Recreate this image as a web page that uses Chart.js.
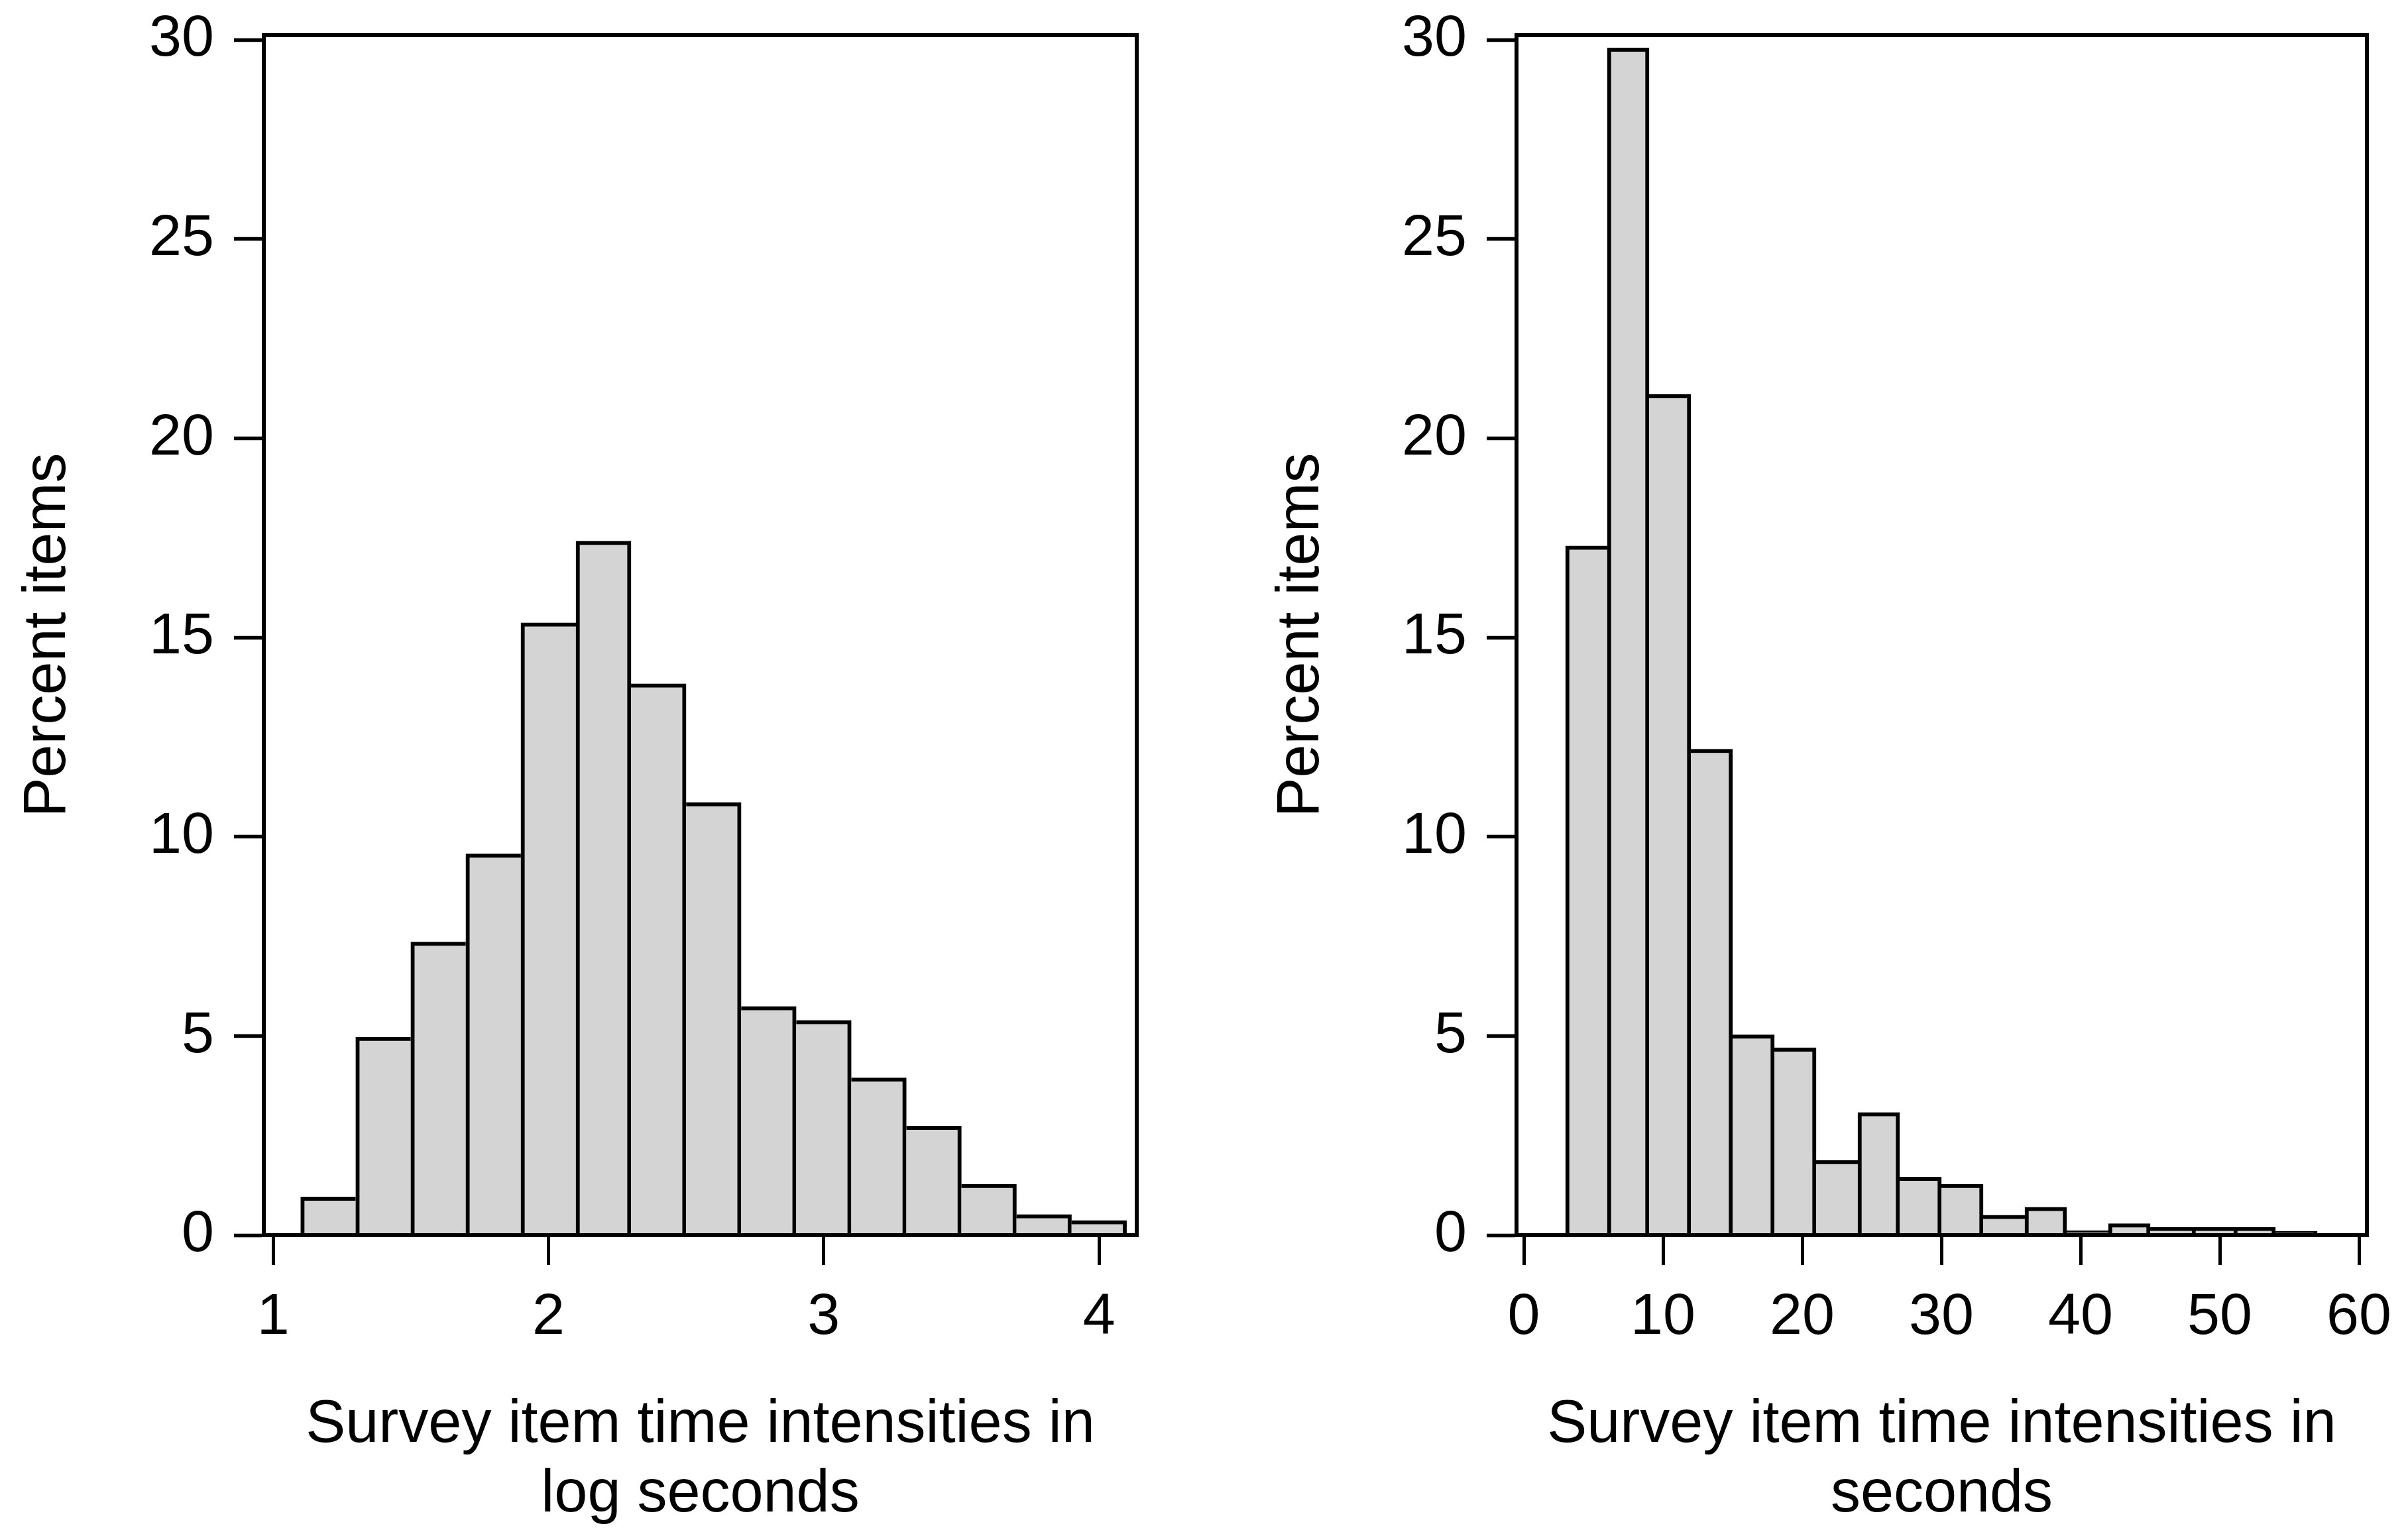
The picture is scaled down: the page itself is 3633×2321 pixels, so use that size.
<!DOCTYPE html>
<html><head><meta charset="utf-8">
<script src="https://cdn.jsdelivr.net/npm/chart.js@4"></script>
<style>
html,body{margin:0;padding:0;background:#fff;width:3633px;height:2321px;overflow:hidden}
canvas{position:absolute;top:0}
</style></head>
<body>
<canvas id="c1" width="1800" height="2321" style="left:0;width:1800px;height:2321px"></canvas>
<canvas id="c2" width="1833" height="2321" style="left:1800px;width:1833px;height:2321px"></canvas>
<script>
// ---- data ----
const logBinStarts = [1.1, 1.3, 1.5, 1.7, 1.9, 2.1, 2.3, 2.5, 2.7, 2.9, 3.1, 3.3, 3.5, 3.7, 3.9];
const logBinWidth = 0.2;
const logPercents = [0.96, 4.97, 7.36, 9.57, 15.37, 17.42, 13.84, 10.86, 5.74, 5.39, 3.95, 2.74, 1.28, 0.52, 0.37];

const secBinStarts = [3, 6, 9, 12, 15, 18, 21, 24, 27, 30, 33, 36, 39, 42, 45, 48, 51, 54];
const secBinWidth = 3;
const secPercents = [17.3, 29.8, 21.1, 12.2, 5.03, 4.7, 1.88, 3.08, 1.46, 1.28, 0.5, 0.7, 0.11, 0.29, 0.2, 0.2, 0.2, 0.1];

const logXTicks = [1, 2, 3, 4];
const secXTicks = [0, 10, 20, 30, 40, 50, 60];
const yTicks = [0, 5, 10, 15, 20, 25, 30];

const yTitle = 'Percent items';
const logXTitle = ['Survey item time intensities in', 'log seconds'];
const secXTitle = ['Survey item time intensities in', 'seconds'];

// ---- chart ----
Chart.defaults.font.family = "'Liberation Sans', Arial, Helvetica, sans-serif";
Chart.defaults.color = '#000';

const LW = 6;

const framePlugin = {
  id: 'frame',
  afterDraw(chart) {
    const {ctx, chartArea: a} = chart;
    ctx.save();
    ctx.strokeStyle = '#000';
    ctx.lineWidth = LW;
    ctx.lineJoin = 'miter';
    ctx.beginPath();
    ctx.moveTo(a.left - LW / 2, a.top);
    ctx.lineTo(a.right, a.top);
    ctx.lineTo(a.right, a.bottom + LW / 2);
    ctx.stroke();
    ctx.restore();
  }
};

function makeHist(canvasId, starts, width, values, xTicks, xTitle, cfg) {
  const last = values.length - 1;
  const bw = 6;
  return new Chart(document.getElementById(canvasId), {
    type: 'bar',
    data: {
      datasets: [{
        data: starts.map((s, i) => ({x: s + width / 2, y: values[i]})),
        backgroundColor: '#d4d4d4',
        borderColor: '#000',
        borderSkipped: 'start',
        borderWidth: (c) => {
          const i = c.dataIndex;
          const v = values;
          return {
            top: bw,
            bottom: 0,
            left: (i === 0 || v[i] >= v[i - 1]) ? bw : 0,
            right: (i === last || v[i] > v[i + 1]) ? bw : 0
          };
        },
        barPercentage: 1,
        categoryPercentage: 1
      }]
    },
    options: {
      responsive: false,
      devicePixelRatio: 1,
      animation: false,
      events: [],
      layout: {padding: {top: 53, right: cfg.padRight, bottom: 12.5, left: 0}},
      plugins: {legend: {display: false}, tooltip: {enabled: false}},
      scales: {
        x: {
          type: 'linear',
          min: cfg.xMin,
          max: cfg.xMax,
          offset: false,
          afterBuildTicks: (s) => { s.ticks = xTicks.map(v => ({value: v})); },
          afterFit: (s) => { s.height = 444.5; s.paddingLeft = 0; s.paddingRight = 0; },
          grid: {display: true, drawOnChartArea: false, drawTicks: true, tickLength: 45, tickWidth: 5, tickColor: '#000', offset: false},
          border: {display: true, color: '#000', width: LW, z: 1},
          ticks: {color: '#000', font: {size: 88, lineHeight: 1.2}, padding: 27, maxRotation: 0, minRotation: 0, autoSkip: false},
          title: {display: true, text: xTitle, color: '#000', font: {size: 90, lineHeight: 1.1667}, padding: {top: 0, bottom: 0}}
        },
        y: {
          type: 'linear',
          min: 0,
          max: 30.12,
          afterBuildTicks: (s) => { s.ticks = yTicks.map(v => ({value: v})); },
          afterFit: (s) => { s.width = cfg.yWidth; s.paddingTop = 0; s.paddingBottom = 0; },
          grid: {display: true, drawOnChartArea: false, drawTicks: true, tickLength: 45, tickWidth: 5.5, tickColor: '#000'},
          border: {display: true, color: '#000', width: LW, z: 1},
          ticks: {color: '#000', font: {size: 88, lineHeight: 1.2}, padding: 30, autoSkip: false},
          title: {display: true, text: yTitle, color: '#000', font: {size: 90, lineHeight: 1.1667}, padding: {top: cfg.yTitlePad, bottom: 0}}
        }
      }
    },
    plugins: [framePlugin]
  });
}

makeHist('c1', logBinStarts, logBinWidth, logPercents, logXTicks, logXTitle,
  {xMin: 0.966, xMax: 4.137, padRight: 85, yWidth: 398, yTitlePad: 21});
makeHist('c2', secBinStarts, secBinWidth, secPercents, secXTicks, secXTitle,
  {xMin: -0.524, xMax: 60.571, padRight: 62, yWidth: 488, yTitlePad: 111.5});
</script>
</body></html>
